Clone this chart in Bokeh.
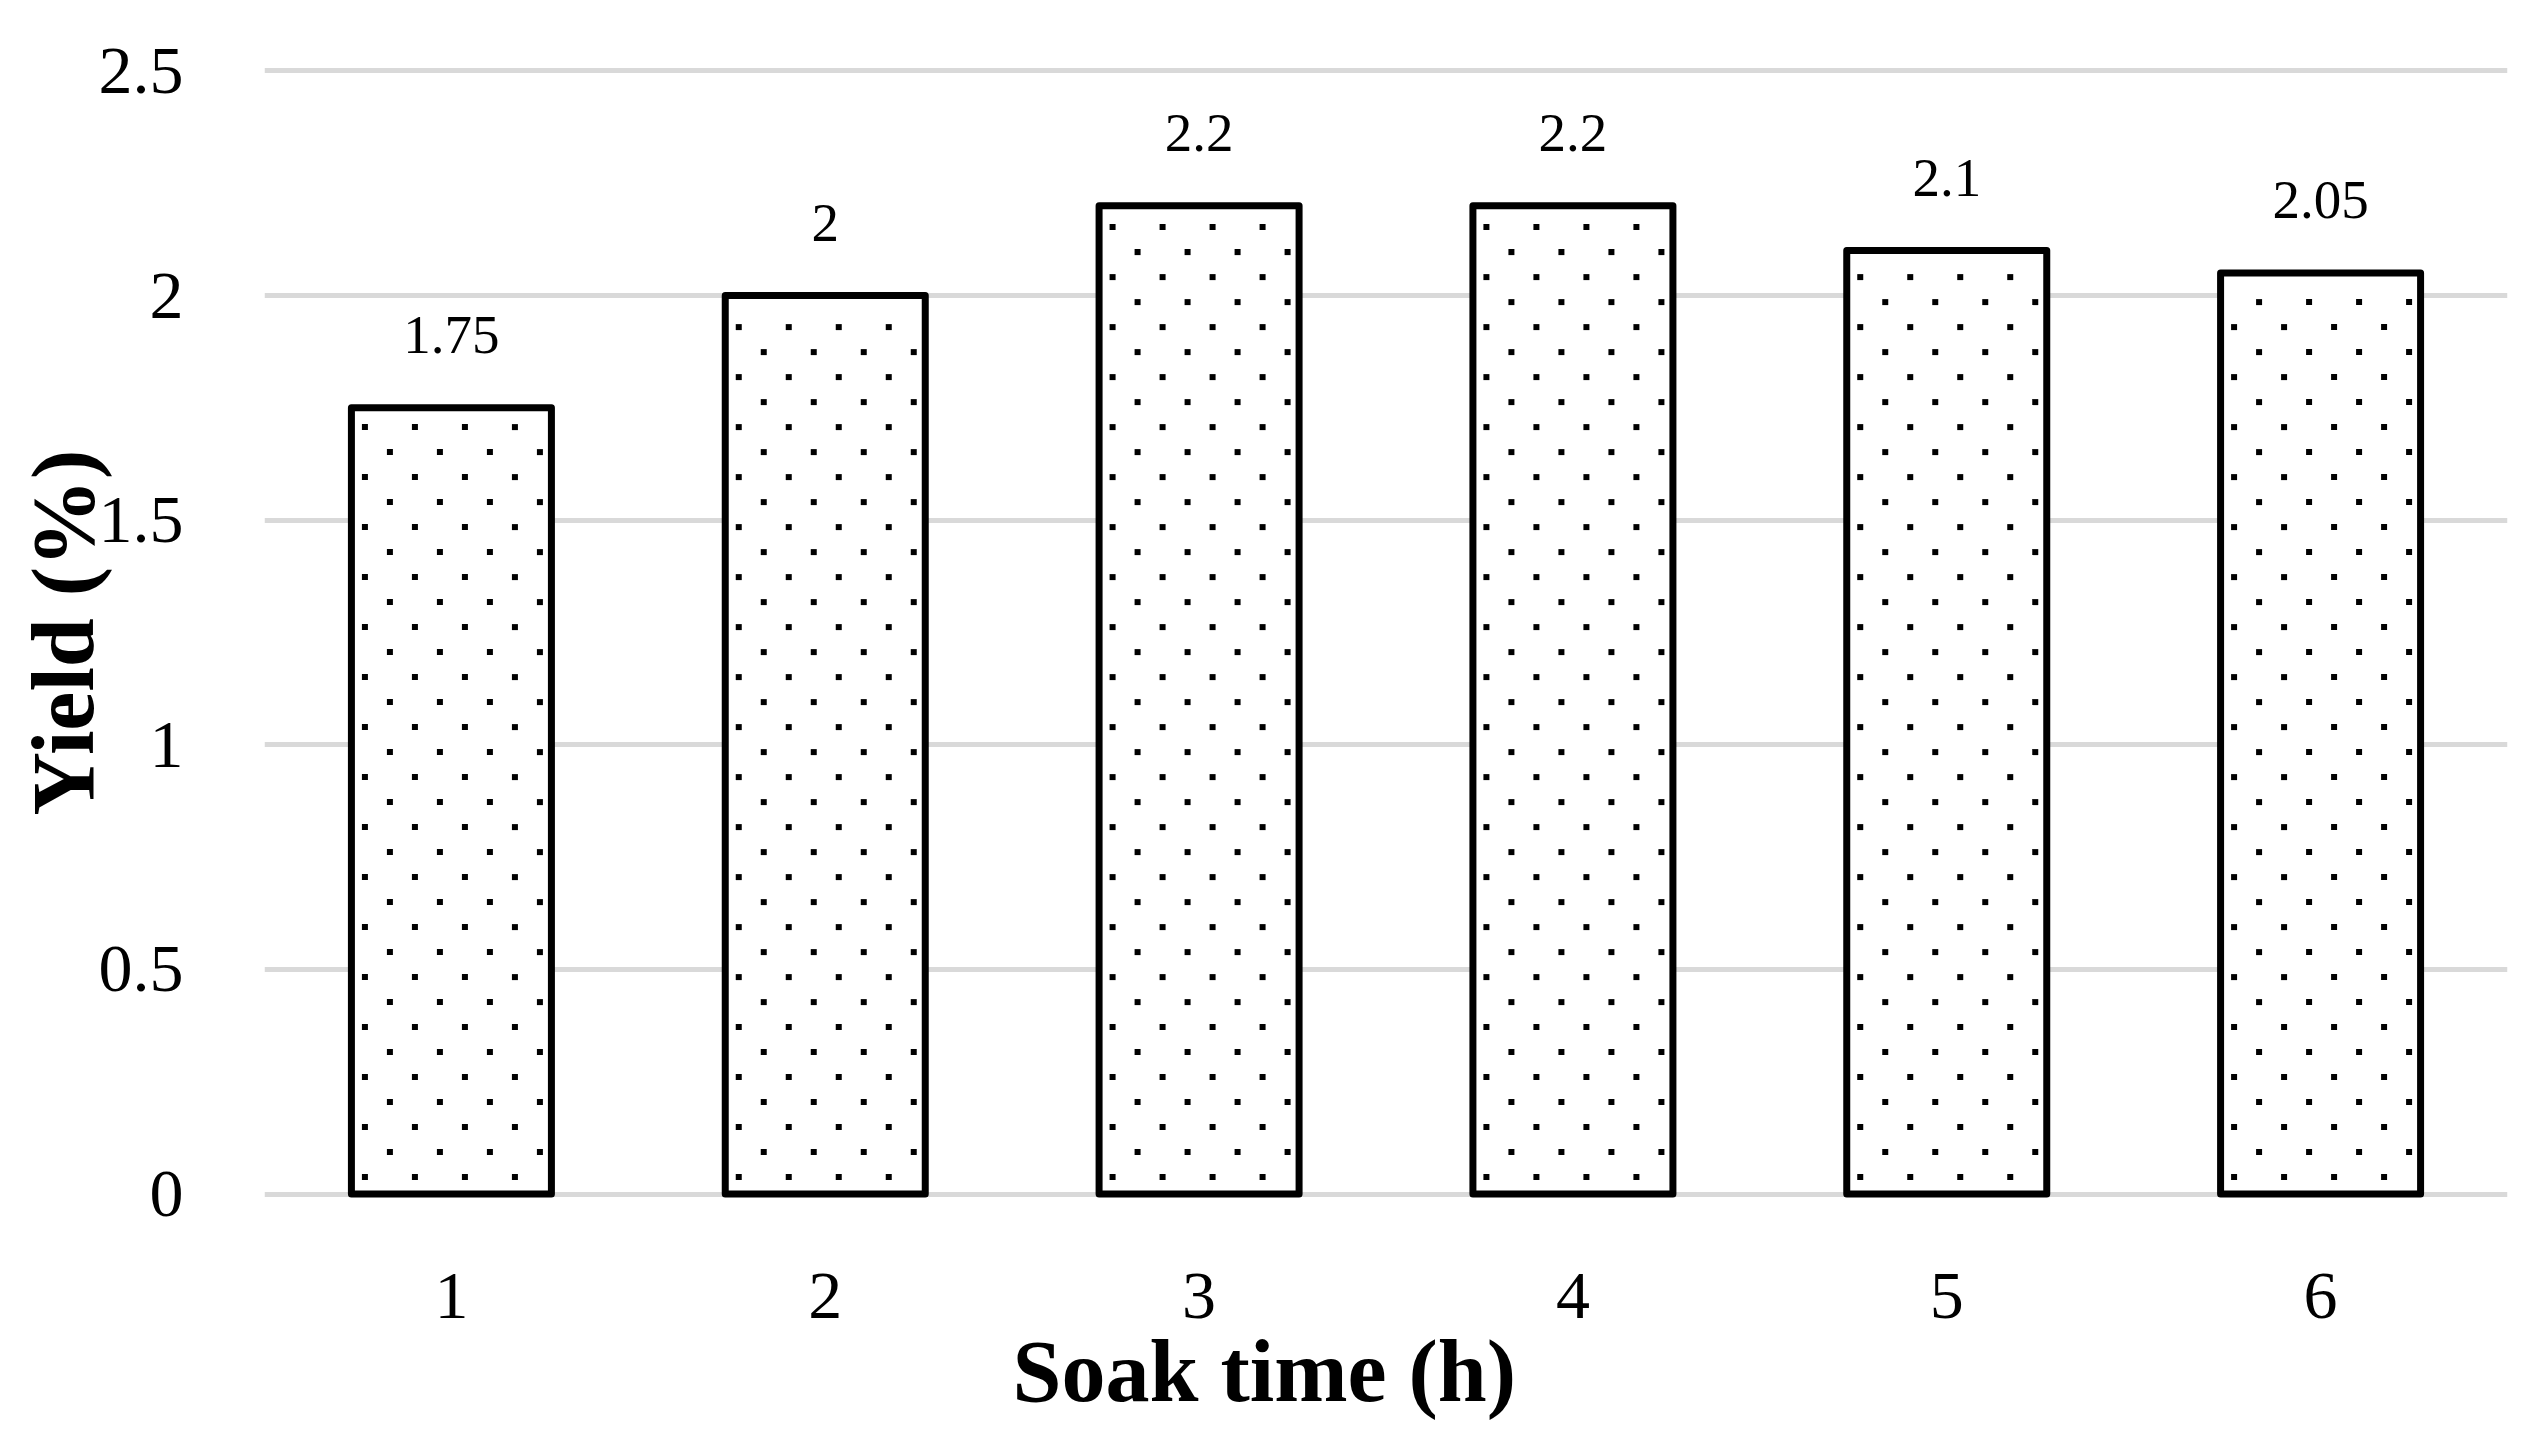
from bokeh.plotting import figure
from bokeh.models import ColumnDataSource, Range1d, FixedTicker, LabelSet, Title
from bokeh.core.properties import value
from bokeh.embed import file_html
from bokeh.resources import INLINE

categories = ["1", "2", "3", "4", "5", "6"]
yields = [1.75, 2.0, 2.2, 2.2, 2.1, 2.05]
labels = ["1.75", "2", "2.2", "2.2", "2.1", "2.05"]
y_ticks = [0, 0.5, 1, 1.5, 2, 2.5]
x_title = "Soak time (h)"
y_title = "Yield (%)"

FONT = "Liberation Serif"

W, H = 2528, 1420
BL, BR, BT, BB = 264, 21, 65, 221
X0, X1 = 0.5, len(categories) + 0.5
Y0, Y1 = -0.012, 2.512
BAR_W = 0.535

xpos = [i + 1 for i in range(len(categories))]
src = ColumnDataSource(dict(x=xpos, y=yields, lab=labels))

px_x = (W - BL - BR) / (X1 - X0)
px_y = (H - BT - BB) / (Y1 - Y0)

# dotted fill pattern (style): staggered dots, 50px apart horizontally, rows 25px apart
dx, dy = [], []
for xc, top in zip(xpos, yields):
    left = xc - BAR_W / 2
    top_px = top * px_y
    row = 0
    ypx = 17.0
    while ypx < top_px - 12:
        xo = 13.5 if row % 2 == 0 else 38.5
        while xo < BAR_W * px_x - 9:
            dx.append(left + xo / px_x)
            dy.append(ypx / px_y)
            xo += 50
        row += 1
        ypx += 25.0

p = figure(x_range=Range1d(X0, X1), y_range=Range1d(Y0, Y1),
           width=W, height=H, output_backend="svg", toolbar_location=None,
           min_border_left=BL, min_border_right=BR, min_border_top=BT,
           min_border_bottom=BB)
p.outline_line_color = None

p.vbar(x="x", top="y", bottom=0, width=BAR_W, source=src,
       fill_color="white", line_color=None)
p.scatter(dx, dy, marker="square", size=6, fill_color="black", line_color=None)
p.vbar(x="x", top="y", bottom=0, width=BAR_W, source=src,
       fill_color=None, line_color="black", line_width=7, line_join="round")

p.add_layout(LabelSet(x="x", y="y", text="lab", source=src, y_offset=55,
                      text_align="center", text_baseline="bottom",
                      text_font=value(FONT), text_font_size="55px", text_color="black"))

p.xaxis.ticker = FixedTicker(ticks=xpos)
p.xaxis.major_label_overrides = {x: c for x, c in zip(xpos, categories)}
p.yaxis.ticker = FixedTicker(ticks=y_ticks)
p.ygrid.ticker = FixedTicker(ticks=y_ticks)
p.xgrid.grid_line_color = None
p.ygrid.grid_line_color = "#d9d9d9"
p.ygrid.grid_line_width = 5
p.ygrid.level = "underlay"

for ax in (p.xaxis, p.yaxis):
    ax.axis_line_color = None
    ax.major_tick_line_color = None
    ax.minor_tick_line_color = None
    ax.major_label_text_font = FONT
    ax.major_label_text_font_size = "68px"
    ax.major_label_text_color = "black"

p.xaxis.major_label_standoff = 68
p.yaxis.major_label_standoff = 75

p.yaxis.axis_label = y_title
p.yaxis.axis_label_text_font = FONT
p.yaxis.axis_label_text_font_style = "bold"
p.yaxis.axis_label_text_font_size = "88px"
p.yaxis.axis_label_text_color = "black"
p.yaxis.axis_label_standoff = -16

# x title centred on the whole chart width (as in the original), so offset from the frame
p.add_layout(Title(text=x_title, align="left", offset=748, standoff=0,
                   text_font=FONT, text_font_style="bold", text_font_size="88px",
                   text_color="black"), "below")

open("out.html", "w").write(file_html(p, INLINE))
